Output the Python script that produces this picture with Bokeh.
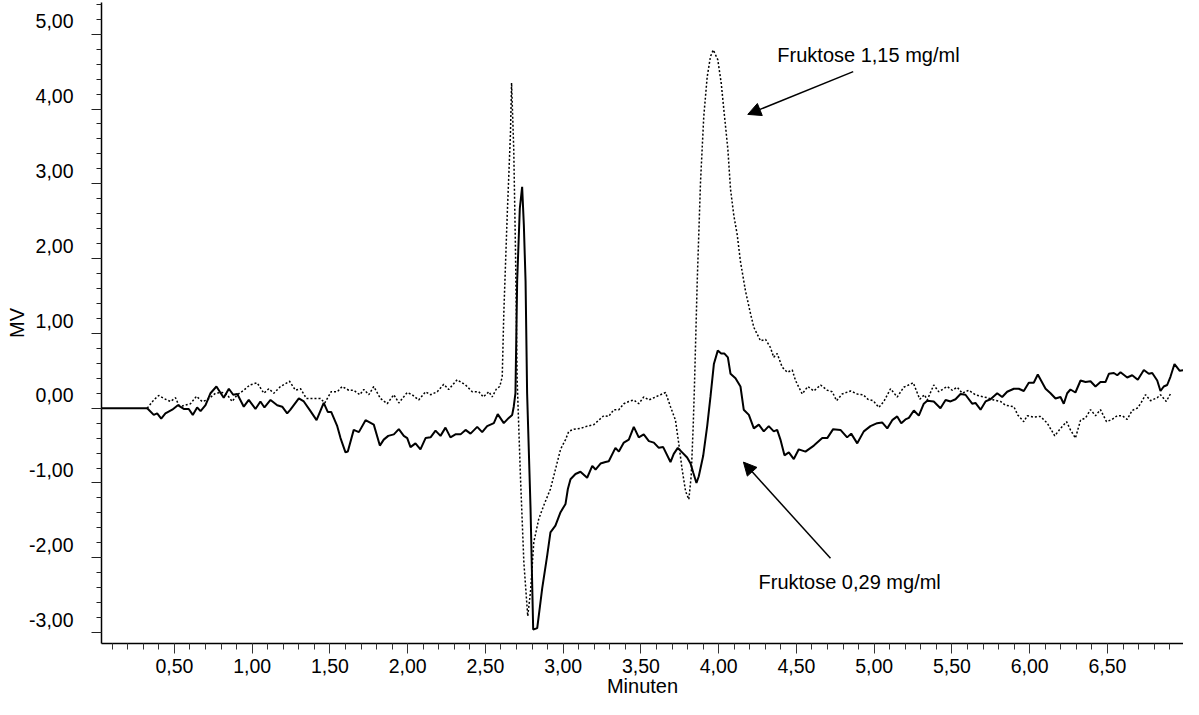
from bokeh.plotting import figure
from bokeh.models import (LinearAxis, FixedTicker, CustomJSTickFormatter, Range1d,
                          Arrow, NormalHead, Label)
from bokeh.embed import file_html
from bokeh.resources import INLINE

FONT = "Liberation Sans"
FS = "20px"
FS_TICK = "19.5px"

# flat baseline before the detector signal starts
base_t = [0.031, 0.325]
base_v = [-0.17, -0.17]

# Fruktose 0,29 mg/ml (solid)
t_029 = [0.325, 0.367, 0.389, 0.415, 0.442, 0.486, 0.522, 0.560, 0.592, 0.618, 0.646, 0.668, 0.700,
         0.732, 0.770, 0.817, 0.850, 0.878, 0.904, 0.946, 0.978, 1.021, 1.053, 1.079, 1.118, 1.161,
         1.193, 1.225, 1.246, 1.300, 1.332, 1.375, 1.414, 1.460, 1.486, 1.508, 1.547, 1.568, 1.600,
         1.615, 1.653, 1.686, 1.729, 1.782, 1.821, 1.846, 1.875, 1.911, 1.943, 1.975, 1.997, 2.018,
         2.050, 2.082, 2.115, 2.147, 2.179, 2.211, 2.243, 2.275, 2.307, 2.340, 2.372, 2.404, 2.447,
         2.479, 2.511, 2.554, 2.579, 2.618, 2.650, 2.672, 2.682, 2.693, 2.704, 2.721, 2.736, 2.747,
         2.758, 2.768, 2.790, 2.807, 2.833, 2.865, 2.897, 2.918, 2.950, 2.983, 3.015, 3.030, 3.047,
         3.079, 3.111, 3.154, 3.187, 3.208, 3.240, 3.272, 3.293, 3.336, 3.358, 3.390, 3.422, 3.454,
         3.486, 3.518, 3.551, 3.583, 3.615, 3.643, 3.690, 3.711, 3.737, 3.765, 3.797, 3.819, 3.836,
         3.857, 3.872, 3.900, 3.926, 3.947, 3.969, 3.994, 4.016, 4.037, 4.059, 4.076, 4.108, 4.140,
         4.161, 4.194, 4.226, 4.258, 4.290, 4.322, 4.354, 4.376, 4.397, 4.423, 4.451, 4.483, 4.515,
         4.558, 4.612, 4.666, 4.698, 4.736, 4.783, 4.826, 4.852, 4.891, 4.933, 4.976, 5.019, 5.051,
         5.084, 5.116, 5.148, 5.174, 5.201, 5.223, 5.255, 5.287, 5.319, 5.341, 5.383, 5.426, 5.459,
         5.491, 5.523, 5.555, 5.587, 5.630, 5.651, 5.684, 5.716, 5.748, 5.791, 5.823, 5.855, 5.898,
         5.930, 5.962, 5.994, 6.026, 6.052, 6.102, 6.134, 6.166, 6.198, 6.219, 6.241, 6.262, 6.294,
         6.327, 6.359, 6.391, 6.423, 6.455, 6.487, 6.509, 6.541, 6.563, 6.584, 6.627, 6.659, 6.695,
         6.734, 6.766, 6.788, 6.820, 6.841, 6.862, 6.884, 6.905, 6.931, 6.965, 6.991, 7.013]
v_029 = [-0.17, -0.26, -0.24, -0.31, -0.24, -0.19, -0.13, -0.18, -0.18, -0.26, -0.16, -0.21, -0.13,
         0.03, 0.12, -0.03, 0.09, 0.01, 0.02, -0.15, -0.06, -0.18, -0.08, -0.16, -0.06, -0.13,
         -0.15, -0.24, -0.19, -0.04, -0.08, -0.21, -0.33, -0.10, -0.22, -0.22, -0.41, -0.57, -0.76,
         -0.75, -0.46, -0.49, -0.33, -0.39, -0.67, -0.59, -0.54, -0.52, -0.45, -0.54, -0.57, -0.69,
         -0.64, -0.72, -0.57, -0.56, -0.47, -0.54, -0.43, -0.56, -0.52, -0.52, -0.46, -0.51, -0.42,
         -0.49, -0.41, -0.37, -0.25, -0.37, -0.30, -0.26, -0.15, 0.03, 1.53, 2.50, 2.79, 2.28,
         1.53, 0.03, -1.51, -3.13, -3.11, -2.58, -2.14, -1.83, -1.74, -1.56, -1.45, -1.25, -1.12,
         -1.05, -1.02, -1.10, -0.94, -0.99, -0.91, -0.89, -0.88, -0.70, -0.75, -0.63, -0.59, -0.42,
         -0.56, -0.52, -0.61, -0.63, -0.70, -0.69, -0.89, -0.78, -0.70, -0.76, -0.83, -0.91, -1.03,
         -1.17, -1.08, -0.81, -0.41, -0.02, 0.42, 0.60, 0.56, 0.56, 0.51, 0.29, 0.23, 0.12,
         -0.19, -0.26, -0.44, -0.39, -0.48, -0.41, -0.48, -0.46, -0.59, -0.80, -0.76, -0.85, -0.72,
         -0.75, -0.67, -0.57, -0.57, -0.45, -0.46, -0.56, -0.51, -0.64, -0.48, -0.41, -0.37, -0.36,
         -0.44, -0.33, -0.28, -0.37, -0.32, -0.30, -0.20, -0.27, -0.11, -0.07, -0.08, -0.17, -0.06,
         -0.08, -0.05, 0.02, 0.01, -0.11, -0.10, -0.19, -0.08, -0.05, 0.03, -0.02, 0.05, 0.09,
         0.09, 0.06, 0.17, 0.17, 0.28, 0.09, 0.03, -0.04, -0.02, -0.11, 0.03, 0.08, 0.04,
         0.20, 0.18, 0.19, 0.12, 0.18, 0.18, 0.29, 0.30, 0.27, 0.31, 0.24, 0.27, 0.21,
         0.34, 0.29, 0.30, 0.20, 0.06, 0.12, 0.14, 0.25, 0.42, 0.33, 0.34, 0.33]

# Fruktose 1,15 mg/ml (dotted)
t_115 = [0.325, 0.367, 0.399, 0.442, 0.475, 0.507, 0.528, 0.550, 0.603, 0.642, 0.678, 0.711, 0.764,
         0.807, 0.839, 0.871, 0.904, 0.946, 0.985, 1.032, 1.075, 1.107, 1.139, 1.182, 1.240, 1.278,
         1.311, 1.349, 1.396, 1.439, 1.467, 1.508, 1.547, 1.579, 1.621, 1.653, 1.692, 1.718, 1.750,
         1.782, 1.825, 1.868, 1.911, 1.943, 1.997, 2.029, 2.071, 2.115, 2.147, 2.190, 2.232, 2.264,
         2.318, 2.372, 2.415, 2.457, 2.486, 2.522, 2.543, 2.571, 2.592, 2.608, 2.618, 2.640, 2.661,
         2.668, 2.682, 2.693, 2.704, 2.725, 2.747, 2.772, 2.790, 2.811, 2.843, 2.875, 2.918, 2.950,
         2.983, 3.015, 3.036, 3.068, 3.111, 3.154, 3.197, 3.229, 3.261, 3.293, 3.325, 3.358, 3.390,
         3.422, 3.454, 3.486, 3.518, 3.551, 3.583, 3.626, 3.658, 3.690, 3.722, 3.743, 3.765, 3.787,
         3.808, 3.823, 3.836, 3.844, 3.862, 3.883, 3.904, 3.926, 3.947, 3.965, 3.994, 4.016, 4.037,
         4.059, 4.076, 4.097, 4.119, 4.140, 4.172, 4.205, 4.226, 4.269, 4.301, 4.333, 4.354, 4.376,
         4.408, 4.441, 4.473, 4.494, 4.537, 4.573, 4.612, 4.655, 4.698, 4.730, 4.758, 4.794, 4.848,
         4.891, 4.929, 4.959, 4.994, 5.030, 5.062, 5.105, 5.148, 5.190, 5.251, 5.293, 5.323, 5.341,
         5.383, 5.415, 5.469, 5.502, 5.534, 5.566, 5.608, 5.651, 5.684, 5.727, 5.769, 5.812, 5.844,
         5.898, 5.923, 5.962, 5.984, 6.026, 6.069, 6.113, 6.161, 6.198, 6.237, 6.262, 6.294, 6.327,
         6.359, 6.391, 6.423, 6.455, 6.494, 6.530, 6.563, 6.595, 6.627, 6.659, 6.691, 6.713, 6.745,
         6.777, 6.820, 6.841, 6.878, 6.910]
v_115 = [-0.17, -0.06, 0.00, -0.05, -0.08, -0.03, -0.13, -0.14, -0.11, -0.01, -0.08, -0.06, 0.03,
         0.04, 0.01, -0.08, 0.01, 0.07, 0.14, 0.17, 0.03, 0.09, 0.03, 0.12, 0.19, 0.07,
         0.09, -0.04, -0.04, -0.04, -0.10, 0.05, 0.05, 0.12, 0.07, 0.07, 0.01, 0.08, 0.01,
         0.12, -0.04, -0.11, 0.01, -0.10, 0.04, 0.01, -0.06, 0.05, 0.01, 0.05, 0.15, 0.08,
         0.21, 0.14, 0.05, 0.05, -0.02, 0.05, -0.02, 0.09, 0.12, 0.25, 1.09, 2.41, 3.51,
         4.18, 3.29, 1.97, 0.21, -1.08, -2.23, -2.95, -2.62, -1.96, -1.65, -1.47, -1.25, -0.99,
         -0.72, -0.59, -0.48, -0.45, -0.44, -0.41, -0.39, -0.33, -0.27, -0.28, -0.19, -0.19, -0.11,
         -0.08, -0.06, -0.11, -0.02, -0.06, -0.03, 0.01, 0.04, -0.15, -0.33, -0.64, -0.99, -1.28,
         -1.39, -1.08, -0.41, 0.12, 1.53, 2.85, 3.73, 4.26, 4.53, 4.62, 4.49, 4.18, 3.74,
         3.29, 2.76, 2.41, 2.15, 1.79, 1.40, 1.09, 0.91, 0.73, 0.75, 0.64, 0.51, 0.56,
         0.38, 0.31, 0.34, 0.20, 0.02, 0.12, 0.06, 0.14, 0.07, 0.05, -0.07, 0.02, 0.06,
         0.02, 0.01, -0.05, -0.07, -0.16, -0.08, 0.09, -0.02, 0.11, 0.17, -0.05, 0.01, -0.06,
         0.14, 0.05, 0.12, 0.07, 0.11, 0.03, 0.07, 0.01, -0.01, -0.03, -0.06, -0.08, -0.13,
         -0.15, -0.26, -0.35, -0.27, -0.29, -0.28, -0.37, -0.54, -0.44, -0.35, -0.46, -0.57, -0.33,
         -0.30, -0.19, -0.27, -0.19, -0.35, -0.32, -0.27, -0.27, -0.32, -0.20, -0.17, -0.11, 0.01,
         -0.07, -0.03, 0.01, -0.08, 0.04]

x_major_ticks = [0.5, 1.0, 1.5, 2.0, 2.5, 3.0, 3.5, 4.0, 4.5, 5.0, 5.5, 6.0, 6.5, 7.0]
y_label_values = [-3, -2, -1, 0, 1, 2, 3, 4, 5]

ann_text = ["Fruktose 1,15 mg/ml", "Fruktose 0,29 mg/ml"]
ann_pos = [(4.377, 4.552), (4.256, -2.50)]
arrow_from = [(4.865, 4.33), (4.719, -2.177)]
arrow_to = [(4.187, 3.758), (4.159, -0.891)]

p = figure(width=1183, height=699, x_range=Range1d(0.031, 6.989), y_range=Range1d(-3.316, 5.254),
           x_axis_type=None, y_axis_type=None, output_backend="svg", toolbar_location=None,
           min_border_left=101, min_border_right=0, min_border_top=2, min_border_bottom=52,
           outline_line_color=None)

p.line(base_t, base_v, line_color="black", line_width=2)
p.line(t_115, v_115, line_color="black", line_width=1.5, line_dash="2 2")
p.line(t_029, v_029, line_color="black", line_width=2)

fmt = CustomJSTickFormatter(code="return (Math.abs(tick - 7) < 1e-6) ? '' : tick.toFixed(2).replace('.', ',');")
xminor = [round(0.1 * i, 2) for i in range(1, 71)]
xaxis = LinearAxis(ticker=FixedTicker(ticks=x_major_ticks, minor_ticks=xminor), formatter=fmt,
                   axis_label="Minuten", axis_label_text_font=FONT, axis_label_text_font_size=FS,
                   axis_label_text_font_style="normal", axis_label_text_color="black",
                   axis_label_standoff=-1,
                   major_label_text_font=FONT, major_label_text_font_size=FS_TICK,
                   major_label_text_color="black", major_label_standoff=5,
                   major_tick_out=10, major_tick_in=0, minor_tick_out=6, minor_tick_in=0,
                   major_tick_line_color="#333333", minor_tick_line_color="#333333",
                   axis_line_color="black", axis_line_width=1.5)
p.add_layout(xaxis, "below")

# inner y axis: line + tick marks
long_ticks = [k - 0.17 for k in y_label_values]
short_ticks = [round(-3.37 + 0.2 * j, 2) for j in range(0, 44)]
yaxis_ticks = LinearAxis(ticker=FixedTicker(ticks=long_ticks, minor_ticks=short_ticks),
                         formatter=CustomJSTickFormatter(code="return '';"),
                         major_label_text_font_size="0px", major_label_standoff=0,
                         major_tick_out=10, major_tick_in=0, minor_tick_out=5, minor_tick_in=0,
                         major_tick_line_color="#222222", minor_tick_line_color="#222222",
                         axis_line_color="black", axis_line_width=1.5)
# outer y axis: value labels and title
yaxis_labels = LinearAxis(ticker=FixedTicker(ticks=y_label_values, minor_ticks=[]),
                          formatter=CustomJSTickFormatter(code="return tick.toFixed(2).replace('.', ',');"),
                          axis_line_color=None, major_tick_out=0, major_tick_in=0,
                          minor_tick_out=0, minor_tick_in=0,
                          major_label_text_font=FONT, major_label_text_font_size=FS_TICK,
                          major_label_text_color="black", major_label_standoff=18,
                          axis_label="MV", axis_label_text_font=FONT, axis_label_text_font_size=FS,
                          axis_label_text_font_style="normal", axis_label_text_color="black",
                          axis_label_standoff=-2)
p.add_layout(yaxis_ticks, "left")
p.add_layout(yaxis_labels, "left")

for (xs, ys), (xe, ye) in zip(arrow_from, arrow_to):
    p.add_layout(Arrow(x_start=xs, y_start=ys, x_end=xe, y_end=ye, line_color="black", line_width=1.5,
                       end=NormalHead(size=13, fill_color="black", line_color="black")))
for txt, (x, y) in zip(ann_text, ann_pos):
    p.add_layout(Label(x=x, y=y, text=txt, text_font=FONT, text_font_size=FS,
                       text_baseline="middle", text_align="left", text_color="black"))

open("out.html", "w").write(file_html(p, INLINE))
